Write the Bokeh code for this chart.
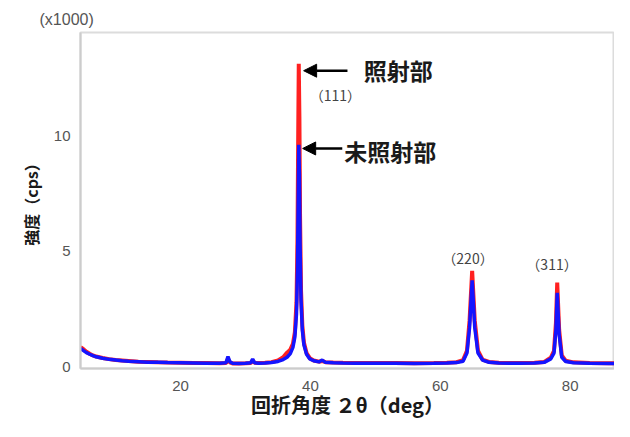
from bokeh.plotting import figure
from bokeh.models import Range1d, Label, Arrow, NormalHead, FixedTicker, ColumnDataSource, Title
from bokeh.embed import file_html
from bokeh.resources import INLINE

# 2θ (deg)
two_theta = [4.6, 5.0, 5.5, 6.0, 6.5, 7.0, 8.0, 9.0, 10.0, 11.0, 12.0, 13.5, 15.0, 16.5, 18.0,
             20.0, 22.0, 24.0, 26.0, 27.0, 27.3, 27.6, 28.0, 29.0, 30.0, 30.8, 31.1, 31.4,
             32.0, 33.0, 34.0, 35.0, 35.8, 36.4, 36.9, 37.3, 37.6, 37.85, 38.0, 38.1, 38.2,
             38.3, 38.4, 38.55, 38.75, 39.0, 39.4, 39.9, 40.5, 41.3, 41.8, 42.3, 43.5, 45.0,
             47.0, 50.0, 53.0, 56.0, 59.0, 61.0, 62.5, 63.5, 64.1, 64.5, 64.9, 65.3, 65.8,
             66.5, 67.5, 69.0, 72.0, 74.5, 76.0, 77.0, 77.5, 77.8, 78.0, 78.3, 78.7, 79.3,
             80.5, 83.0, 86.0, 88.5]

# 照射部 (irradiated), intensity x1000 cps
irradiated = [0.86, 0.78, 0.66, 0.57, 0.50, 0.45, 0.39, 0.34, 0.30, 0.28, 0.26, 0.23, 0.22, 0.20, 0.19,
              0.18, 0.17, 0.17, 0.16, 0.17, 0.35, 0.20, 0.15, 0.15, 0.16, 0.17, 0.28, 0.18,
              0.17, 0.18, 0.21, 0.28, 0.42, 0.62, 0.75, 1.00, 1.50, 2.80, 5.50, 9.50, 13.1,
              10.8, 6.50, 3.30, 1.80, 1.05, 0.60, 0.38, 0.28, 0.23, 0.26, 0.21, 0.19, 0.18,
              0.17, 0.17, 0.17, 0.16, 0.17, 0.18, 0.21, 0.30, 0.70, 2.00, 4.15, 2.00, 0.70,
              0.32, 0.22, 0.18, 0.17, 0.18, 0.22, 0.40, 0.70, 1.90, 3.65, 1.60, 0.50, 0.27,
              0.20, 0.17, 0.16, 0.16]

# 未照射部 (non-irradiated), intensity x1000 cps
non_irradiated = [0.80, 0.72, 0.62, 0.55, 0.49, 0.44, 0.38, 0.33, 0.30, 0.27, 0.25, 0.23, 0.21, 0.20, 0.19,
                  0.18, 0.17, 0.16, 0.16, 0.18, 0.45, 0.22, 0.16, 0.15, 0.16, 0.18, 0.34, 0.18,
                  0.16, 0.17, 0.19, 0.24, 0.32, 0.42, 0.58, 0.85, 1.30, 2.30, 4.20, 6.80, 9.6,
                  8.30, 5.30, 2.90, 1.60, 0.95, 0.55, 0.35, 0.27, 0.22, 0.30, 0.20, 0.18, 0.17,
                  0.16, 0.16, 0.16, 0.15, 0.16, 0.17, 0.19, 0.25, 0.60, 1.70, 3.74, 1.70, 0.60,
                  0.30, 0.20, 0.17, 0.16, 0.17, 0.20, 0.35, 0.60, 1.60, 3.20, 1.40, 0.42, 0.24,
                  0.18, 0.16, 0.15, 0.15]

x_ticks = [20, 40, 60, 80]
y_ticks = [0, 5, 10]
peak_labels = ["（111）", "（220）", "（311）"]
peak_label_x = [39.9, 64.26, 77.2]
peak_label_y = [11.73, 4.69, 4.47]

src = ColumnDataSource(dict(x=two_theta, red=irradiated, blue=non_irradiated))

p = figure(width=614, height=421, output_backend="svg", toolbar_location=None,
           x_range=Range1d(4.59, 86.82), y_range=Range1d(-0.065, 14.45),
           min_border_left=80, min_border_right=0, min_border_top=32, min_border_bottom=53)
p.background_fill_color = "white"
p.border_fill_color = "white"
p.outline_line_color = "#dcdcdc"
p.outline_line_width = 2
p.xgrid.grid_line_color = None
p.ygrid.grid_line_color = None

p.line("x", "red", source=src, line_color="#ff2020", line_width=4)
p.line("x", "blue", source=src, line_color="#1414ff", line_width=3.5)

for ax in (p.xaxis[0], p.yaxis[0]):
    ax.axis_line_color = "#cccccc"
    ax.axis_line_width = 2
    ax.major_tick_line_color = None
    ax.minor_tick_line_color = None
    ax.major_label_text_color = "#555555"
    ax.major_label_text_font = "Liberation Sans"
    ax.major_label_text_font_size = "15px"
    ax.axis_label_text_font = "Noto Sans CJK JP"
    ax.axis_label_text_font_style = "bold"
    ax.axis_label_text_color = "#1a1a1a"

p.xaxis.ticker = FixedTicker(ticks=x_ticks)
p.yaxis.ticker = FixedTicker(ticks=y_ticks)
p.xaxis.major_label_standoff = 6
p.yaxis.major_label_standoff = 4
p.xaxis.axis_label = "回折角度 ２θ（deg）"
p.xaxis.axis_label_text_font_size = "20px"
p.xaxis.axis_label_standoff = -4
p.yaxis.axis_label = "強度（cps）"
p.yaxis.axis_label_text_font_size = "16px"
p.yaxis.axis_label_standoff = 8

p.add_layout(Title(text="(x1000)", align="left", offset=-41, standoff=10,
                   text_font="Liberation Sans", text_font_size="16px",
                   text_font_style="normal", text_color="#555555"), "above")

for t, lx, ly in zip(peak_labels, peak_label_x, peak_label_y):
    p.add_layout(Label(x=lx, y=ly, text=t, text_font="Noto Sans CJK JP", text_font_size="14px",
                       text_color="#444444", text_align="center" if t != "（111）" else "left",
                       text_baseline="middle"))

p.add_layout(Arrow(end=NormalHead(size=13, fill_color="black", line_color="black"),
                   x_start=45.7, y_start=12.8, x_end=38.95, y_end=12.8,
                   line_color="black", line_width=2.5))
p.add_layout(Arrow(end=NormalHead(size=13, fill_color="black", line_color="black"),
                   x_start=44.9, y_start=9.44, x_end=38.8, y_end=9.44,
                   line_color="black", line_width=2.5))

p.add_layout(Label(x=48.2, y=12.85, text="照射部", text_font="Noto Sans CJK JP",
                   text_font_style="bold", text_font_size="23px", text_color="#1a1a1a",
                   text_baseline="middle"))
p.add_layout(Label(x=45.2, y=9.35, text="未照射部", text_font="Noto Sans CJK JP",
                   text_font_style="bold", text_font_size="23px", text_color="#1a1a1a",
                   text_baseline="middle"))

open("out.html", "w").write(file_html(p, INLINE))
